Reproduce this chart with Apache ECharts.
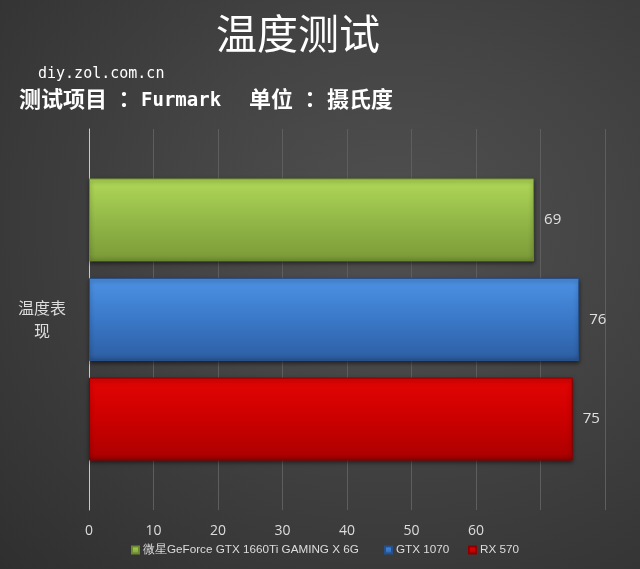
<!DOCTYPE html>
<html>
<head>
<meta charset="utf-8">
<script src="https://cdn.jsdelivr.net/npm/echarts@6/dist/echarts.min.js"></script>
<style>
html,body{margin:0;padding:0;}
#c{width:640px;height:569px;background:radial-gradient(ellipse at 62% 40%, #505050 0%, #444 40%, #2f2f2f 100%);}
</style>
</head>
<body>
<div id="c"></div>
<script>
var categories = ['温度表现'];
var seriesNames = ['微星GeForce GTX 1660Ti GAMING X 6G', 'GTX 1070', 'RX 570'];
var values = [69, 76, 75];
var tickLabels = ['0', '10', '20', '30', '40', '50', '60', '', ''];

var colors = [
  ['#acd455', '#93b848', '#7e9e3a'],
  ['#4a8ee0', '#3a78c8', '#2f62a8'],
  ['#e00404', '#cc0000', '#b00000']
];
var borders = ['#6c8a30', '#27508a', '#8a0000'];
var legendLefts = [131, 384, 468];

var chart = echarts.init(document.getElementById('c'), null, {renderer: 'canvas'});

var series = [];
var legends = [];
for (var i = 0; i < seriesNames.length; i++) {
  series.push({
    name: seriesNames[i],
    type: 'bar',
    data: [values[i]],
    barWidth: 83,
    barGap: '20%',
    itemStyle: {
      color: new echarts.graphic.LinearGradient(0, 0, 0, 1, [
        {offset: 0, color: colors[i][0]},
        {offset: 0.08, color: colors[i][0]},
        {offset: 0.5, color: colors[i][1]},
        {offset: 0.92, color: colors[i][2]},
        {offset: 1, color: borders[i]}
      ]),
      borderColor: borders[i],
      borderWidth: 1,
      shadowColor: 'rgba(0,0,0,0.5)',
      shadowBlur: 4,
      shadowOffsetY: 2
    },
    label: {
      show: true,
      position: 'right',
      distance: 10,
      color: '#e0e0e0',
      fontSize: 15,
      fontFamily: 'Open Sans'
    }
  });
  legends.push({
    data: [seriesNames[i]],
    top: 544,
    left: legendLefts[i],
    padding: 0,
    itemWidth: 7,
    itemHeight: 7,
    itemGap: 0,
    icon: 'rect',
    textStyle: {color: '#dddddd', fontSize: 11.7, fontFamily: 'Liberation Sans', padding: [0, 0, 0, -1]}
  });
}

var cjk = {fontFamily: 'Noto Sans CJK SC', fontSize: 22, fontWeight: 'bold', color: '#ffffff'};
var cjkGap = {fontFamily: 'Noto Sans CJK SC', fontSize: 22, fontWeight: 'bold', color: '#ffffff', padding: [0, 0, 0, 28]};
var colon = {fontFamily: 'Noto Sans CJK JP', fontSize: 22, fontWeight: 'bold', color: '#ffffff', padding: [0, 6, 0, 6]};
var latin = {fontFamily: 'DejaVu Sans Mono', fontSize: 19, fontWeight: 'bold', color: '#ffffff', padding: [5, 0, 0, 0]};

chart.setOption({
  backgroundColor: 'transparent',
  animation: false,
  title: [
    {text: '温度测试', left: 211, top: 8, textStyle: {color: '#ffffff', fontSize: 41, fontWeight: 'normal', fontFamily: 'Noto Sans CJK SC'}},
    {text: 'diy.zol.com.cn', left: 33, top: 62, textStyle: {color: '#ffffff', fontSize: 15, fontWeight: 'normal', fontFamily: 'DejaVu Sans Mono'}},
    {text: '{a|测试项目}{c|：}{b|Furmark}{d|单位}{c|：}{a|摄氏度}', left: 14, top: 82,
     textStyle: {color: '#ffffff', fontSize: 22, rich: {a: cjk, b: latin, c: colon, d: cjkGap}}}
  ],
  legend: legends,
  grid: {left: 89, right: 35, top: 129, bottom: 59, containLabel: false},
  xAxis: {
    type: 'value',
    min: 0,
    max: 80,
    interval: 10,
    axisLine: {show: false},
    axisTick: {show: false},
    splitLine: {show: true, lineStyle: {color: '#5e5e5e', width: 1}},
    axisLabel: {
      color: '#dddddd',
      fontSize: 14,
      fontFamily: 'Open Sans',
      margin: 14,
      formatter: function (v) { return tickLabels[Math.round(v / 10)]; }
    }
  },
  yAxis: {
    type: 'category',
    data: categories,
    axisLine: {show: true, lineStyle: {color: '#c8c8c8', width: 1}},
    axisTick: {show: false},
    axisLabel: {
      color: '#dddddd',
      fontSize: 16,
      lineHeight: 23,
      margin: 47,
      padding: [0, 0, 6, 0],
      fontFamily: 'Noto Sans CJK SC',
      align: 'center',
      formatter: function (v) { return v.slice(0, 3) + '\n' + v.slice(3); }
    }
  },
  series: series
});
</script>
</body>
</html>
